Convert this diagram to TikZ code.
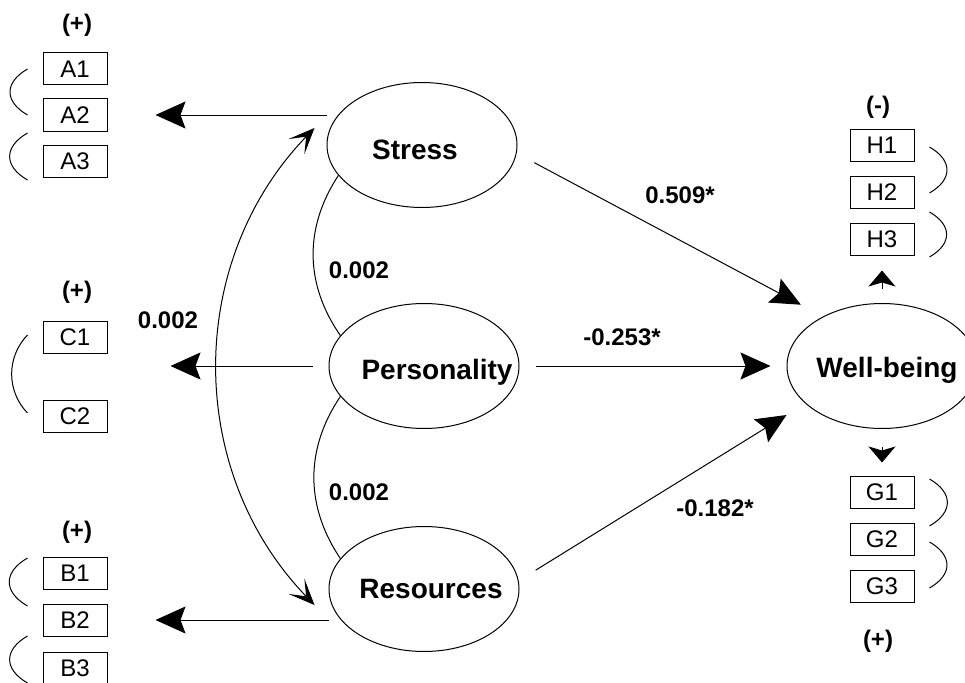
\documentclass[tikz,border=0pt]{standalone}
\usepackage{fontspec}
\setmainfont{Liberation Sans}
\usetikzlibrary{arrows.meta,shapes.geometric}
\tikzset{
  latent/.style  = {draw, ellipse, minimum width=95pt, minimum height=62.5pt,
                    inner sep=0pt, line width=0.5pt},
  latlbl/.style  = {font=\fontsize{14}{16}\selectfont\bfseries, inner sep=0pt},
  obs/.style     = {draw, minimum width=32pt, minimum height=16pt, inner sep=0pt,
                    line width=0.5pt, font=\fontsize{12}{14}\selectfont},
  coef/.style    = {font=\fontsize{12}{14}\selectfont\bfseries, inner sep=0pt},
  flecha/.style  = {-{Stealth[length=15pt,width=13.5pt,inset=2.5pt]}, line width=0.5pt},
  flechac/.style = {-{Stealth[length=8pt,width=13.5pt,inset=2pt]}, line width=0.5pt},
  covar/.style   = {{Stealth[length=13pt,width=11pt,inset=7pt]}-{Stealth[length=13pt,width=11pt,inset=7pt]},
                    line width=0.5pt},
  errl/.style    = {out=210, in=150, looseness=1.5},
  errr/.style    = {out=-30, in=30, looseness=1.5},
}

\begin{document}
\begin{tikzpicture}[x=0.5pt, y=0.5pt, line width=0.5pt]
  \useasboundingbox (0,0) rectangle (965,682);
  % latent variables
  \node[latent, label={[latlbl,xshift=-3.5pt,yshift=-2.5pt]center:Stress}] (Stress) at (422,537) {};
  \node[latent, label={[latlbl,xshift=6.5pt,yshift=-3pt]center:Personality}] (Pers) at (424,316) {};
  \node[latent, label={[latlbl,xshift=3.5pt]center:Resources}] (Res) at (424,93) {};
  \node[latent, label={[latlbl,xshift=2.5pt,yshift=-2pt]center:Well-being}] (WB) at (882,316) {};
  % indicators
  \node[obs] (A1) at (75,613) {A1};
  \node[obs] (A2) at (75,567) {A2};
  \node[obs] (A3) at (75,521) {A3};
  \node[obs] (C1) at (75,345) {C1};
  \node[obs] (C2) at (75,266) {C2};
  \node[obs] (B1) at (75,109) {B1};
  \node[obs] (B2) at (75,62)  {B2};
  \node[obs] (B3) at (75,14)  {B3};
  \node[obs] (H1) at (882,537) {H1};
  \node[obs] (H2) at (882,490) {H2};
  \node[obs] (H3) at (882,443) {H3};
  \node[obs] (G1) at (882,190) {G1};
  \node[obs] (G2) at (882,143) {G2};
  \node[obs] (G3) at (882,96)  {G3};
  \node[coef] (sA) at (77,657) {(+)};
  \node[coef] (sC) at (77,390) {(+)};
  \node[coef] (sB) at (77,150) {(+)};
  \node[coef] (sH) at (878,575) {(-)};
  \node[coef] (sG) at (878,41)  {(+)};
  % coefficients
  \node[coef] (kSP) at (359,412) {0.002};
  \node[coef] (kPR) at (359,190) {0.002};
  \node[coef] (kSR) at (168,362) {0.002};
  \node[coef] (kS)  at (680,487) {0.509*};
  \node[coef] (kP)  at (622,345) {-0.253*};
  \node[coef] (kR)  at (715,174) {-0.182*};
  % loadings
  \draw[flecha, shorten >=24pt] (Stress.west |- A2) -- (A2.east);
  \draw[flecha, shorten <=8pt, shorten >=31.5pt] (Pers.west) -- (Pers.west -| C1.east);
  \draw[flecha, shorten >=24pt] (Res.west |- B2) -- (B2.east);
  \draw[flechac, shorten <=7pt, shorten >=7.5pt] (WB.north) -- (WB.north |- H3.south);
  \draw[flechac, shorten <=9pt, shorten >=6.5pt] (WB.south) -- (WB.south |- G1.north);
  % paths
  \draw[flecha, shorten <=10pt, shorten >=12.5pt] (Stress.-5) -- (WB.140);
  \draw[flecha, shorten <=8pt, shorten >=8pt] (Pers.east) -- (WB.west);
  \draw[flecha, shorten <=10pt, shorten >=11pt] (Res.5) -- (WB.206);
  % covariances
  \draw (Stress.200) to[bend right=34] (Pers.160);
  \draw (Pers.200) to[bend right=34] (Res.160);
  \draw[covar] ([shift={(-12,17)}]Stress.west) to[bend right=44] ([shift={(-14,-16)}]Res.west);
  % error correlations
  \draw ([shift={(-15,0)}]A1.west) to[errl] ([shift={(-15,0)}]A2.west);
  \draw ([shift={(-15,-18)}]A2.west) to[errl] ([shift={(-15,-19)}]A3.west);
  \draw ([shift={(-15,2)}]C1.west) to[bend right=44] ([shift={(-15,3)}]C2.west);
  \draw ([shift={(-15,15)}]B1.west) to[errl] ([shift={(-15,14)}]B2.west);
  \draw ([shift={(-15,-16)}]B2.west) to[errl] ([shift={(-15,-15)}]B3.west);
  \draw ([shift={(15,-2)}]H1.east) to[errr] ([shift={(15,-1)}]H2.east);
  \draw ([shift={(15,-20)}]H2.east) to[errr] ([shift={(15,-18)}]H3.east);
  \draw ([shift={(15,13)}]G1.east) to[errr] ([shift={(15,13)}]G2.east);
  \draw ([shift={(15,-3)}]G2.east) to[errr] ([shift={(15,-2)}]G3.east);
\end{tikzpicture}
\end{document}
